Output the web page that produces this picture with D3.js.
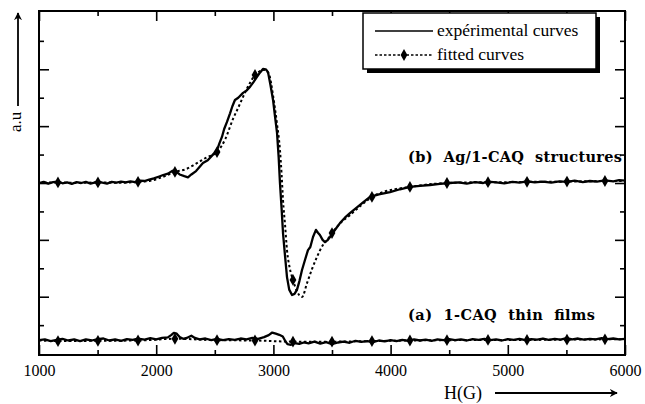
<!DOCTYPE html>
<html>
<head>
<meta charset="utf-8">
<script src="https://cdn.jsdelivr.net/npm/d3@7"></script>
<style>
  body { margin: 0; background: #fff; }
  text { font-family: "Liberation Serif", "DejaVu Serif", serif; }
</style>
</head>
<body>
<svg id="chart" width="645" height="404"></svg>
<script>
// axis ticks
var xTicks = [1000, 1500, 2000, 2500, 3000, 3500, 4000, 4500, 5000, 5500, 6000];
var xLabels = [1000, 2000, 3000, 4000, 5000, 6000];
var yTicks = [1, 2, 3, 4, 5, 6, 7, 8, 9, 10, 11];

// (b) Ag/1-CAQ structures, experimental [H, a.u.]
var expB = [
  [1000, 6.00], [1040, 6.04], [1080, 5.98], [1120, 6.03], [1162, 6.05], [1200, 5.99],
  [1240, 6.02], [1280, 5.97], [1320, 6.03], [1360, 6.00], [1400, 6.04], [1440, 5.98],
  [1480, 6.02], [1503, 6.07], [1540, 6.01], [1580, 5.98], [1620, 6.04], [1660, 6.01],
  [1700, 6.05], [1740, 6.02], [1780, 6.06], [1820, 6.03], [1860, 6.08], [1900, 6.07],
  [1940, 6.12], [1980, 6.16], [2020, 6.22], [2060, 6.28], [2100, 6.33], [2140, 6.43],
  [2170, 6.40], [2200, 6.30], [2240, 6.24], [2271, 6.20], [2300, 6.30], [2340, 6.42],
  [2399, 6.70], [2440, 6.80], [2480, 6.98], [2519, 7.16], [2540, 7.40], [2561, 7.62],
  [2580, 7.90], [2604, 8.15], [2630, 8.45], [2650, 8.70], [2672, 8.92], [2700, 9.00],
  [2741, 9.17], [2770, 9.25], [2800, 9.38], [2830, 9.55], [2860, 9.73], [2885, 9.88],
  [2911, 10.01], [2935, 10.00], [2954, 9.90], [2975, 9.45], [2997, 8.92], [3015, 8.30],
  [3031, 7.76], [3045, 6.90], [3056, 6.00], [3070, 5.10], [3082, 4.24], [3100, 3.40],
  [3116, 2.69], [3135, 2.25], [3159, 2.06], [3180, 2.10], [3201, 2.24], [3222, 2.55],
  [3244, 2.94], [3270, 3.30], [3295, 3.64], [3315, 3.75], [3338, 4.10], [3363, 4.35],
  [3380, 4.25], [3397, 4.17], [3420, 4.00], [3440, 3.92], [3460, 3.98], [3483, 4.10],
  [3520, 4.32], [3568, 4.59], [3610, 4.78], [3653, 4.94], [3700, 5.10], [3760, 5.30],
  [3824, 5.51], [3900, 5.60], [3995, 5.68], [4080, 5.78], [4165, 5.86], [4250, 5.90],
  [4336, 5.93], [4420, 5.97], [4507, 6.00], [4580, 6.02], [4650, 5.98], [4720, 6.03],
  [4790, 6.00], [4831, 6.05], [4900, 6.02], [4970, 5.99], [5040, 6.04], [5100, 6.01],
  [5164, 6.06], [5230, 6.02], [5300, 6.05], [5370, 6.01], [5440, 6.06], [5505, 6.04],
  [5570, 6.08], [5640, 6.03], [5700, 6.07], [5760, 6.05], [5829, 6.09], [5900, 6.06],
  [5950, 6.10], [6000, 6.08]
];

// (b) fitted [H, a.u., marker]
var fitB = [
  [1000, 6.00], [1162, 6.02, 1], [1330, 6.00], [1503, 6.02, 1], [1680, 6.01], [1845, 6.04, 1],
  [1950, 6.08], [2060, 6.22], [2160, 6.39, 1], [2250, 6.48], [2340, 6.68], [2430, 6.90],
  [2519, 7.09, 1], [2590, 7.55], [2655, 8.25], [2700, 8.65], [2741, 9.03], [2800, 9.52],
  [2843, 9.80, 1], [2880, 9.92], [2920, 9.98], [2960, 9.85], [3000, 9.00], [3030, 8.10],
  [3056, 7.16], [3070, 6.30], [3082, 5.40], [3100, 4.50], [3116, 3.64], [3140, 3.00],
  [3167, 2.59, 1], [3200, 2.20], [3244, 1.99], [3287, 2.48], [3330, 2.98], [3372, 3.40],
  [3420, 3.80], [3457, 3.99], [3500, 4.24, 1], [3570, 4.58], [3653, 4.87], [3750, 5.22],
  [3841, 5.51, 1], [3950, 5.70], [4060, 5.80], [4165, 5.86, 1], [4320, 5.95], [4481, 6.00, 1],
  [4650, 6.02], [4831, 6.03, 1], [5000, 6.03], [5164, 6.04, 1], [5330, 6.04], [5505, 6.05, 1],
  [5670, 6.06], [5829, 6.07, 1], [6000, 6.07]
];

// (a) 1-CAQ thin films, experimental
var expA = [
  [1000, 0.47], [1050, 0.50], [1100, 0.44], [1162, 0.49], [1200, 0.52], [1250, 0.46],
  [1300, 0.50], [1350, 0.44], [1400, 0.50], [1450, 0.46], [1503, 0.51], [1550, 0.53],
  [1600, 0.46], [1650, 0.50], [1700, 0.45], [1750, 0.51], [1800, 0.48], [1845, 0.53],
  [1900, 0.49], [1950, 0.54], [2000, 0.50], [2050, 0.55], [2100, 0.57], [2130, 0.66],
  [2150, 0.73], [2175, 0.70], [2200, 0.58], [2230, 0.52], [2260, 0.55], [2300, 0.63],
  [2330, 0.55], [2370, 0.50], [2420, 0.53], [2470, 0.47], [2520, 0.52], [2570, 0.47],
  [2620, 0.51], [2670, 0.48], [2720, 0.53], [2770, 0.50], [2820, 0.55], [2870, 0.52],
  [2920, 0.58], [2960, 0.65], [2990, 0.74], [3020, 0.70], [3050, 0.66], [3080, 0.60],
  [3100, 0.45], [3120, 0.33], [3150, 0.31], [3180, 0.37], [3220, 0.34], [3260, 0.39],
  [3300, 0.36], [3350, 0.42], [3400, 0.35], [3450, 0.40], [3500, 0.33], [3550, 0.39],
  [3600, 0.42], [3650, 0.38], [3700, 0.45], [3750, 0.41], [3800, 0.44], [3850, 0.40],
  [3900, 0.46], [3950, 0.43], [4000, 0.47], [4050, 0.44], [4100, 0.48], [4150, 0.45],
  [4200, 0.50], [4250, 0.46], [4300, 0.49], [4350, 0.45], [4400, 0.50], [4450, 0.47],
  [4500, 0.51], [4550, 0.47], [4600, 0.50], [4650, 0.46], [4700, 0.51], [4750, 0.48],
  [4800, 0.52], [4850, 0.47], [4900, 0.50], [4950, 0.46], [5000, 0.51], [5050, 0.48],
  [5100, 0.52], [5150, 0.47], [5200, 0.51], [5250, 0.49], [5300, 0.53], [5350, 0.48],
  [5400, 0.52], [5450, 0.49], [5500, 0.54], [5550, 0.50], [5600, 0.53], [5650, 0.49],
  [5700, 0.52], [5750, 0.50], [5800, 0.54], [5850, 0.51], [5900, 0.53], [5950, 0.50],
  [6000, 0.52]
];

// (a) fitted
var fitA = [
  [1000, 0.46], [1162, 0.44, 1], [1503, 0.45, 1], [1845, 0.46, 1], [2160, 0.52, 1],
  [2519, 0.47, 1], [2843, 0.46, 1], [3167, 0.42, 1], [3500, 0.42, 1], [3841, 0.44, 1],
  [4165, 0.46, 1], [4481, 0.47, 1], [4831, 0.48, 1], [5164, 0.48, 1], [5505, 0.49, 1],
  [5829, 0.50, 1], [6000, 0.50]
];

var svg = d3.select("#chart"),
  plot = { left: 39, right: 625, top: 11, bottom: 355 };

var xScale = d3.scaleLinear().domain([1000, 6000]).range([plot.left, plot.right]);
var yScale = d3.scaleLinear().domain([-0.05, 12.05]).range([plot.bottom, plot.top]);

var line = d3
  .line()
  .x(function (d) { return xScale(d[0]); })
  .y(function (d) { return yScale(d[1]); });

var fitLine = d3
  .line()
  .x(function (d) { return xScale(d[0]); })
  .y(function (d) { return yScale(d[1]); })
  .curve(d3.curveMonotoneX);

// ticks (inward, on all four sides)
function tickLen(major) { return major ? 10 : 5; }

var xAxisB = d3.axisBottom(xScale).tickValues(xTicks)
  .tickFormat(function (d) { return xLabels.indexOf(d) >= 0 ? d : ""; });
var gxb = svg.append("g").attr("transform", "translate(0," + plot.bottom + ")").call(xAxisB);
gxb.select(".domain").remove();
gxb.selectAll(".tick line")
  .attr("y2", function (d) { return -tickLen(d % 1000 === 0); })
  .attr("stroke", "#000").attr("stroke-width", 1.6);
gxb.selectAll(".tick text")
  .attr("y", 10).attr("dy", "0.71em")
  .style("font-size", "16px").style("font-family", "Liberation Serif").attr("fill", "#000");

var gxt = svg.append("g").attr("transform", "translate(0," + plot.top + ")")
  .call(d3.axisTop(xScale).tickValues(xTicks).tickFormat(""));
gxt.select(".domain").remove();
gxt.selectAll(".tick line")
  .attr("y2", function (d) { return tickLen(d % 1000 === 0); })
  .attr("stroke", "#000").attr("stroke-width", 1.6);

var gyl = svg.append("g").attr("transform", "translate(" + plot.left + ",0)")
  .call(d3.axisLeft(yScale).tickValues(yTicks).tickFormat(""));
gyl.select(".domain").remove();
gyl.selectAll(".tick line")
  .attr("x2", function (d) { return tickLen(d % 2 === 0); })
  .attr("stroke", "#000").attr("stroke-width", 1.6);

var gyr = svg.append("g").attr("transform", "translate(" + plot.right + ",0)")
  .call(d3.axisRight(yScale).tickValues(yTicks).tickFormat(""));
gyr.select(".domain").remove();
gyr.selectAll(".tick line")
  .attr("x2", function (d) { return -tickLen(d % 2 === 0); })
  .attr("stroke", "#000").attr("stroke-width", 1.6);

// frame
svg.append("rect")
  .attr("x", plot.left).attr("y", plot.top)
  .attr("width", plot.right - plot.left).attr("height", plot.bottom - plot.top)
  .attr("fill", "none").attr("stroke", "#000").attr("stroke-width", 2);

// curves
[fitB, fitA].forEach(function (data) {
  svg.append("path").datum(data)
    .attr("fill", "none").attr("stroke", "#000")
    .attr("stroke-width", 2).attr("stroke-dasharray", "2.5,2.5")
    .attr("d", fitLine);
});
[expB, expA].forEach(function (data) {
  svg.append("path").datum(data)
    .attr("fill", "none").attr("stroke", "#000")
    .attr("stroke-width", 2.3).attr("stroke-linejoin", "round")
    .attr("d", line);
});
[fitB, fitA].forEach(function (data) {
  svg.append("g").selectAll("path")
    .data(data.filter(function (d) { return d[2]; }))
    .enter().append("path")
    .attr("transform", function (d) { return "translate(" + xScale(d[0]) + "," + yScale(d[1]) + ")"; })
    .attr("d", d3.symbol().type(d3.symbolDiamond).size(40))
    .attr("fill", "#000");
});

// curve labels
svg.append("text")
  .attr("x", 408).attr("y", 162)
  .attr("xml:space", "preserve")
  .attr("textLength", 214).attr("lengthAdjust", "spacing")
  .style("font-family", "DejaVu Serif")
  .style("font-size", "14.5px").style("font-weight", "bold")
  .text("(b)  Ag/1-CAQ  structures");
svg.append("text")
  .attr("x", 408).attr("y", 320)
  .attr("xml:space", "preserve")
  .attr("textLength", 187).attr("lengthAdjust", "spacing")
  .style("font-family", "DejaVu Serif")
  .style("font-size", "14.5px").style("font-weight", "bold")
  .text("(a)  1-CAQ  thin  films");

// legend
var lg = { x: 363, y: 13, w: 233, h: 56 };
svg.append("rect")
  .attr("x", lg.x + 4).attr("y", lg.y + 4).attr("width", lg.w).attr("height", lg.h)
  .attr("fill", "#000");
svg.append("rect")
  .attr("x", lg.x).attr("y", lg.y).attr("width", lg.w).attr("height", lg.h)
  .attr("fill", "#fff").attr("stroke", "#000").attr("stroke-width", 1.5);

svg.append("line")
  .attr("x1", 375).attr("x2", 433).attr("y1", 31).attr("y2", 31)
  .attr("stroke", "#000").attr("stroke-width", 1.6);
svg.append("line")
  .attr("x1", 375).attr("x2", 433).attr("y1", 55).attr("y2", 55)
  .attr("stroke", "#000").attr("stroke-width", 1.6).attr("stroke-dasharray", "2.5,2");
svg.append("path")
  .attr("transform", "translate(404,55)")
  .attr("d", d3.symbol().type(d3.symbolDiamond).size(40))
  .attr("fill", "#000");
svg.append("text").attr("x", 437).attr("y", 36)
  .style("font-size", "17.5px").text("expérimental curves");
svg.append("text").attr("x", 437).attr("y", 60)
  .style("font-size", "17.5px").text("fitted curves");

// axis titles with arrows
svg.append("defs").append("marker")
  .attr("id", "arrow").attr("viewBox", "0 0 10 10")
  .attr("refX", 9).attr("refY", 5)
  .attr("markerWidth", 8).attr("markerHeight", 8)
  .attr("markerUnits", "userSpaceOnUse")
  .attr("orient", "auto")
  .append("path").attr("d", "M0,0 L10,5 L0,10 L3,5 Z").attr("fill", "#000");

svg.append("line")
  .attr("x1", 18).attr("x2", 18).attr("y1", 106).attr("y2", 13)
  .attr("stroke", "#000").attr("stroke-width", 1.8)
  .attr("marker-end", "url(#arrow)");
svg.append("text")
  .attr("transform", "translate(21,132) rotate(-90)")
  .style("font-size", "17px").text("a.u");

svg.append("text").attr("x", 444).attr("y", 399)
  .style("font-size", "18px").text("H(G)");
svg.append("line")
  .attr("x1", 495).attr("x2", 617).attr("y1", 393).attr("y2", 393)
  .attr("stroke", "#000").attr("stroke-width", 1.8)
  .attr("marker-end", "url(#arrow)");
</script>
</body>
</html>
